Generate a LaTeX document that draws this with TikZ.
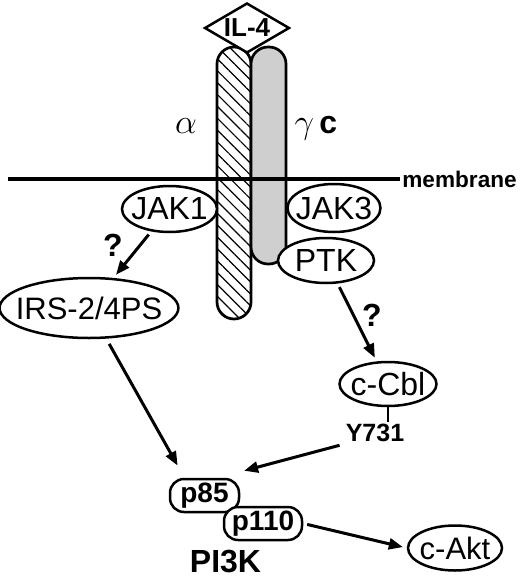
\documentclass[tikz,border=0pt]{standalone}
\usepackage{fontspec}
\setmainfont{Liberation Sans}
\usetikzlibrary{arrows.meta,shapes.geometric,patterns.meta}
\tikzset{oval/.style={draw,ellipse,line width=1.25pt,fill=white,inner xsep=-5pt,inner ysep=0pt,font=\fontsize{16}{16}\selectfont},
  sub/.style={draw,rounded corners=7pt,line width=1.25pt,fill=white,inner sep=0pt,minimum height=16.5pt,font=\bfseries\fontsize{14}{14}\selectfont},
  lab/.style={font=\bfseries\fontsize{#1}{#1}\selectfont,inner sep=1pt},
  ligand/.style={draw,diamond,line width=1.25pt,fill=white,inner sep=0pt,shape aspect=1.7,minimum width=42.5pt,minimum height=25pt,font=\bfseries\fontsize{13}{13}\selectfont},
  chain/.style={line width=1.35pt,rounded corners=8.5pt},
  arr/.style={-{Triangle[length=7pt,width=5.5pt]},line width=1.5pt,shorten <=2pt,shorten >=2pt}}
\begin{document}
\begin{tikzpicture}[x=0.5pt,y=-0.5pt]
\useasboundingbox (0,0) rectangle (520,578);
\draw[chain,pattern={Lines[angle=-45,distance=4.2pt,line width=0.6pt]}] (217,47) rectangle (251,319);
\draw[chain,fill=black!19] (251,47) rectangle (286,264);
\node[lab=11.3,anchor=west] (mem) at (400,179) {membrane};
\coordinate (memstart) at (8,179);
\draw[line width=1.6pt] (memstart) -- (mem.west);
\node[ligand] (il) at (247,28) {IL-4};
\node (alpha) at (186,126) {\fontsize{16}{16}\selectfont$\alpha$};
\node (gam) at (316,128) {\fontsize{16}{16}\selectfont$\gamma$\,\textbf{c}};
\node[oval,minimum width=47.5pt,minimum height=23pt] (jakone) at (169.5,209) {JAK1};
\node[oval,minimum width=46.5pt,minimum height=24pt] (jakthree) at (334,208) {JAK3};
\node[oval,minimum width=48pt,minimum height=22.5pt] (ptk) at (326,260.5) {PTK};
\node[oval,minimum width=86pt,minimum height=30pt,font=\fontsize{15.5}{15.5}\selectfont] (irs) at (89,308) {IRS-2/4PS};
\node[oval,minimum width=48.5pt,minimum height=22pt] (ccbl) at (388,384) {c-Cbl};
\node[lab=12.5] (ytyr) at (375,433) {Y731};
\node[sub,minimum width=34.5pt] (pe) at (204.5,495.5) {p85};
\node[sub,minimum width=39pt] (pten) at (263,523.5) {p110};
\node[lab=16,inner sep=0pt] (pik) at (225.5,562) {PI3K};
\node[oval,minimum width=47pt,minimum height=22.5pt,font=\fontsize{15.5}{15.5}\selectfont] (cakt) at (455,548) {c-Akt};
\node[lab=16] (qone) at (113,245) {?};
\node[lab=16] (qtwo) at (372,315) {?};
\draw[arr] (jakone) -- (irs);
\draw[arr] (ptk) -- (ccbl);
\draw[line width=1.3pt] (ccbl.south) -- (ccbl.south |- ytyr.north);
\draw[arr,shorten <=3pt,shorten >=7pt] (irs) -- ([xshift=-10pt]pe.north);
\draw[arr] (ytyr.south west) -- ([yshift=3pt]pe.north east);
\draw[arr] (pten.east) -- (cakt.west);
\end{tikzpicture}
\end{document}
